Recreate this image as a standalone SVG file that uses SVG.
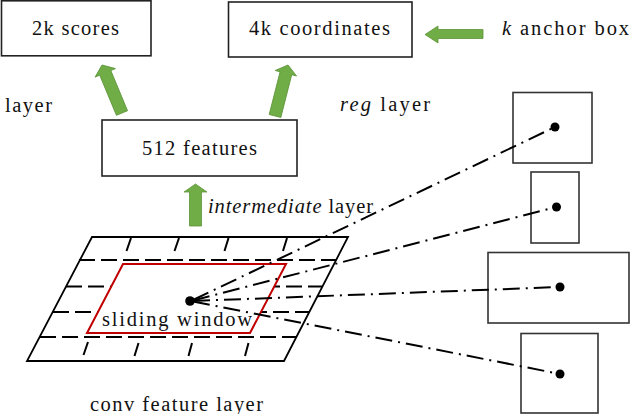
<svg xmlns="http://www.w3.org/2000/svg" width="630" height="414" viewBox="0 0 630 414">
<defs>
<style>
.t{font-family:"Liberation Serif","Times New Roman",serif;font-size:20.5px;fill:#111}
.i{font-style:italic}
.box{fill:#fff;stroke:#222;stroke-width:1.6}
.abox{fill:none;stroke:#333;stroke-width:1.6}
.grn{fill:#70ad47;stroke:#5d9438;stroke-width:0.8}
.edge{fill:none;stroke:#000;stroke-width:1.8}
.hd{fill:none;stroke:#000;stroke-width:2;stroke-dasharray:16 6}
.vd{stroke:#000;stroke-width:2}
.dd{fill:none;stroke:#000;stroke-width:2;stroke-dasharray:17 6 2 6}
</style>
</defs>
<rect width="630" height="414" fill="#fff"/>

<g id="node-scores">
<rect class="box" x="1.5" y="0.8" width="149.5" height="55"/>
<text class="t" x="32" y="35" textLength="87" lengthAdjust="spacing">2k scores</text>
</g>
<g id="node-coords">
<rect class="box" x="228.5" y="2" width="183.5" height="55"/>
<text class="t" x="249" y="35" textLength="141" lengthAdjust="spacing">4k coordinates</text>
</g>
<g id="label-anchor">
<text class="t" x="502" y="35" textLength="148" lengthAdjust="spacing"><tspan class="i">k</tspan> anchor boxes</text>
</g>
<g id="label-cls"><text class="t" x="5" y="112" textLength="47" lengthAdjust="spacing">layer</text></g>
<g id="label-reg"><text class="t" x="340" y="111" textLength="90" lengthAdjust="spacing"><tspan class="i">reg</tspan> layer</text></g>
<g id="node-features">
<rect class="box" x="102" y="120" width="195" height="56"/>
<text class="t" x="142" y="155" textLength="115" lengthAdjust="spacing">512 features</text>
</g>
<g id="label-intermediate"><text class="t" x="208" y="213" textLength="165" lengthAdjust="spacing"><tspan class="i">intermediate</tspan> layer</text></g>

<g id="arrows">
<path class="grn" transform="translate(102,65) rotate(-22.6)" d="M0,0 L11,8.5 L6,8.5 L6,52 L-6,52 L-6,8.5 L-11,8.5 Z"/>
<path class="grn" transform="translate(288,65) rotate(14.3)" d="M0,0 L11,8.5 L6,8.5 L6,52.6 L-6,52.6 L-6,8.5 L-11,8.5 Z"/>
<path class="grn" transform="translate(195.5,184)" d="M0,0 L11.5,8 L6,8 L6,42 L-6,42 L-6,8 L-11.5,8 Z"/>
<path class="grn" d="M425,34.5 L438,26 L438,29.5 L483,29.5 L483,38.5 L438,38.5 L438,43 Z"/>
</g>

<g id="node-grid">
<polygon class="edge" points="92,237 348,237 284,361 27,361"/>
<line class="hd" x1="79" y1="260" x2="336" y2="260"/>
<line class="hd" x1="66" y1="286.5" x2="322" y2="286.5"/>
<line class="hd" x1="53" y1="312" x2="309" y2="312"/>
<line class="hd" x1="40" y1="337" x2="296" y2="337"/>
<line class="vd" x1="131" y1="238" x2="126.5" y2="251"/>
<line class="vd" x1="179" y1="238" x2="174.5" y2="251"/>
<line class="vd" x1="228.5" y1="238" x2="224.5" y2="251"/>
<line class="vd" x1="287" y1="238" x2="283" y2="251"/>
<line class="vd" x1="88" y1="342" x2="83.5" y2="355"/>
<line class="vd" x1="138.5" y1="343" x2="134.5" y2="356"/>
<line class="vd" x1="192" y1="343" x2="188.5" y2="356"/>
<line class="vd" x1="248.5" y1="343" x2="245" y2="356"/>
</g>
<g id="node-window">
<polygon points="123,264 286,264 250,333 87,333" fill="#fff" stroke="#c00000" stroke-width="2"/>
<text class="t" x="102" y="326" textLength="150" lengthAdjust="spacing">sliding window</text>
</g>
<g id="label-conv"><text class="t" x="90" y="411" textLength="173" lengthAdjust="spacing">conv feature layer</text></g>

<g id="anchor-1"><rect class="abox" x="513" y="92.5" width="79" height="70.5"/><circle cx="555" cy="127" r="4.5"/></g>
<g id="anchor-2"><rect class="abox" x="531" y="172" width="48" height="71"/><circle cx="556.5" cy="207" r="4.5"/></g>
<g id="anchor-3"><rect class="abox" x="488" y="252.5" width="141" height="70.5"/><circle cx="560" cy="287" r="4.5"/></g>
<g id="anchor-4"><rect class="abox" x="521" y="333.5" width="77" height="79.5"/><circle cx="560" cy="374" r="4.5"/></g>

<g id="connectors">
<line class="dd" x1="193" y1="300" x2="555" y2="127"/>
<line class="dd" x1="193" y1="300.5" x2="556.5" y2="207"/>
<line class="dd" x1="193" y1="301" x2="560" y2="287"/>
<line class="dd" x1="193" y1="301.5" x2="560" y2="374"/>
</g>
<circle id="window-center" cx="190" cy="301" r="4.8"/>
</svg>
